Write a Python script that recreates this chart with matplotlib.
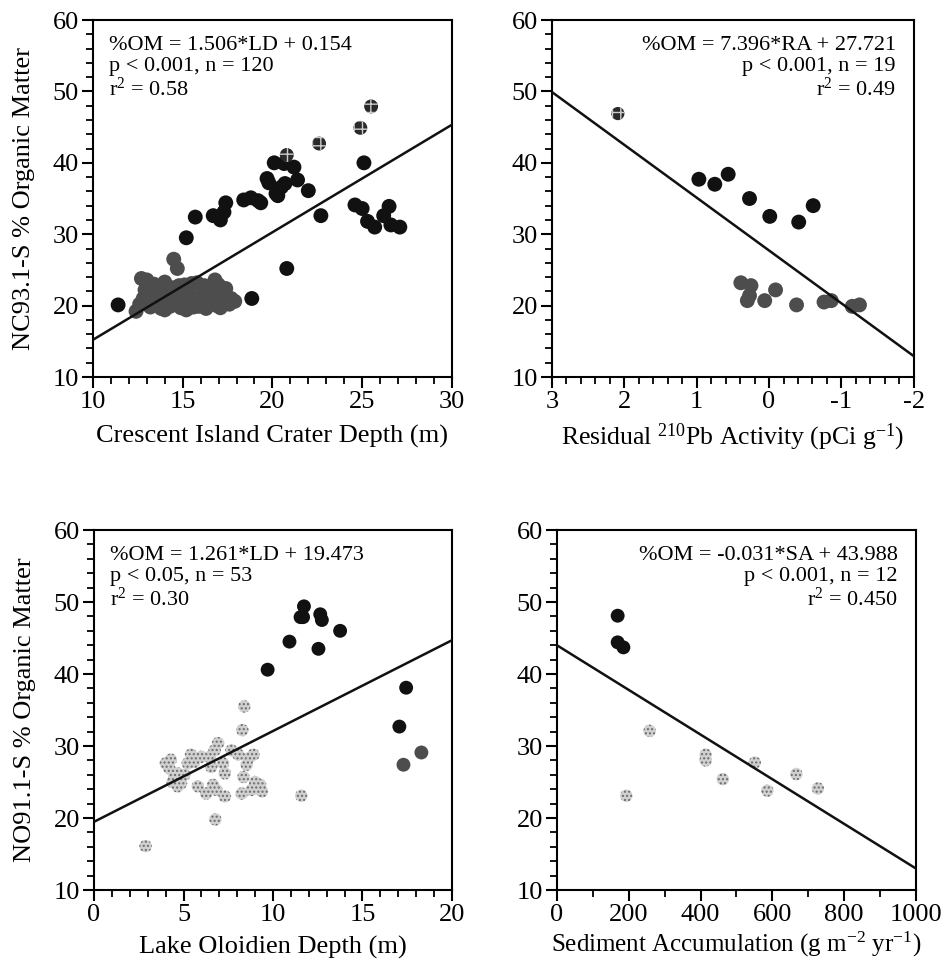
import numpy as np
import matplotlib
matplotlib.use("Agg")
import matplotlib.pyplot as plt
from matplotlib.ticker import MultipleLocator

plt.rcParams['font.family'] = ['Liberation Serif', 'DejaVu Serif']
plt.rcParams['mathtext.fontset'] = 'custom'
plt.rcParams['mathtext.rm'] = 'Liberation Serif'
plt.rcParams['mathtext.it'] = 'Liberation Serif:italic'
plt.rcParams['axes.unicode_minus'] = False
plt.rcParams['hatch.linewidth'] = 1.0

# ---- Panel A: Crescent Island Crater depth vs NC93.1-S %OM ----
a_black_x = [15.2, 15.7, 16.7, 17.1, 17.3, 17.4, 18.4, 18.8, 19.2, 19.35, 20.1, 19.7, 19.8,
             20.2, 20.3, 20.5, 20.65, 21.2, 20.7, 21.4, 22.0, 22.7, 24.6, 25.0, 25.1, 25.3,
             25.7, 26.2, 26.5, 26.6, 27.1, 20.8, 18.85, 11.4]
a_black_y = [29.5, 32.4, 32.6, 32.0, 33.1, 34.4, 34.8, 35.1, 34.7, 34.4, 40.0, 37.8, 37.2,
             35.7, 35.4, 36.6, 39.9, 39.4, 37.1, 37.6, 36.1, 32.6, 34.1, 33.6, 40.0, 31.8,
             31.0, 32.6, 33.9, 31.3, 31.0, 25.2, 21.0, 20.1]
a_gray_x = [14.5, 14.7, 12.4, 12.6, 12.8, 12.9, 13.0, 13.1, 13.2, 13.3, 13.4, 13.5, 13.6, 13.7,
            13.8, 13.9, 14.0, 14.1, 14.2, 14.3, 14.4, 14.5, 14.6, 14.7, 14.8, 14.9, 15.0, 15.1,
            15.2, 15.3, 15.4, 15.5, 15.6, 15.7, 15.8, 16.0, 16.1, 16.2, 16.3, 16.4, 16.5, 16.6,
            16.7, 16.8, 16.9, 17.0, 17.1, 17.2, 17.3, 17.4, 17.5, 17.6, 17.7, 17.9, 12.7, 13.3,
            14.0, 15.9]
a_gray_y = [26.5, 25.2, 19.2, 20.2, 21.0, 22.2, 23.6, 20.5, 19.8, 21.6, 23.0, 22.4, 20.3, 21.2,
            19.6, 22.0, 23.3, 20.6, 21.8, 19.9, 20.8, 22.5, 21.3, 20.1, 22.8, 19.7, 20.9, 22.9,
            19.4, 20.4, 21.5, 23.1, 19.8, 20.6, 23.2, 20.1, 21.7, 22.8, 19.6, 20.8, 22.3, 20.3,
            21.2, 23.6, 20.0, 22.9, 19.7, 21.1, 20.4, 22.4, 20.9, 20.2, 21.0, 20.6, 23.8, 20.9,
            19.4, 19.9]
a_hatch_x = [20.8, 22.6, 24.9, 25.5]
a_hatch_y = [41.1, 42.7, 44.9, 47.9]
a_coef = (1.506, 0.154)
a_text = ["%OM = 1.506*LD + 0.154", "p < 0.001, n = 120", "r$^{2}$ = 0.58"]

# ---- Panel B: residual 210Pb activity vs NC93.1-S %OM ----
b_black_x = [0.97, 0.75, 0.565, 0.27, -0.01, -0.41, -0.61]
b_black_y = [37.7, 37.0, 38.4, 35.0, 32.5, 31.7, 34.0]
b_gray_x = [0.39, 0.25, 0.27, 0.30, 0.06, -0.09, -0.38, -0.76, -0.86, -1.15, -1.25]
b_gray_y = [23.2, 22.8, 21.4, 20.7, 20.7, 22.2, 20.1, 20.5, 20.7, 19.9, 20.1]
b_hatch_x = [2.09]
b_hatch_y = [46.9]
b_coef = (7.396, 27.721)
b_text = ["%OM = 7.396*RA + 27.721", "p < 0.001, n = 19", "r$^{2}$ = 0.49"]

# ---- Panel C: Lake Oloidien depth vs NO91.1-S %OM ----
c_black_x = [11.73, 11.54, 11.68, 12.64, 12.73, 13.75, 10.92, 12.54, 9.70, 17.44, 17.06]
c_black_y = [49.4, 47.9, 47.9, 48.3, 47.5, 46.0, 44.5, 43.5, 40.6, 38.1, 32.7]
c_gray_x = [18.29, 17.29]
c_gray_y = [29.1, 27.4]
c_dot_x = [8.40, 8.29, 2.88, 6.78, 11.58, 6.93, 6.74, 6.46, 7.21, 7.31, 5.42, 5.24, 4.29, 4.20,
           4.48, 4.86, 4.67, 5.80, 6.27, 6.84, 7.31, 8.06, 8.63, 8.91, 8.53, 8.35, 9.0, 9.38,
           8.25, 5.99, 4.01, 5.6, 6.55, 8.8, 4.67, 5.05, 4.39, 6.65, 9.28, 7.68]
c_dot_y = [35.5, 32.2, 16.1, 19.8, 23.1, 30.4, 29.4, 28.5, 27.6, 26.2, 28.8, 27.6, 28.1, 26.9,
           25.7, 24.8, 24.4, 24.4, 23.4, 23.9, 23.0, 28.8, 28.3, 28.8, 27.4, 25.7, 25.0, 23.7,
           23.4, 28.5, 27.6, 27.8, 27.1, 23.9, 26.2, 26.0, 25.0, 24.6, 24.6, 29.4]
c_coef = (1.261, 19.473)
c_text = ["%OM = 1.261*LD + 19.473", "p < 0.05, n = 53", "r$^{2}$ = 0.30"]

# ---- Panel D: sediment accumulation vs NO91.1-S %OM ----
d_black_x = [169, 169, 185]
d_black_y = [48.1, 44.4, 43.7]
d_dot_x = [258, 193, 414, 414, 462, 551, 586, 667, 727]
d_dot_y = [32.1, 23.1, 28.8, 28.0, 25.4, 27.7, 23.8, 26.1, 24.1]
d_coef = (-0.031, 43.988)
d_text = ["%OM = -0.031*SA + 43.988", "p < 0.001, n = 12", "r$^{2}$ = 0.450"]

BLACK = '#111111'
DGRAY = '#4d4d4d'
FS = 19


def style_axes(ax, xlim, xmaj, xmin):
    ax.set_xlim(*xlim)
    ax.set_ylim(10, 60)
    ax.xaxis.set_major_locator(MultipleLocator(xmaj))
    ax.xaxis.set_minor_locator(MultipleLocator(xmin))
    ax.yaxis.set_major_locator(MultipleLocator(10))
    ax.yaxis.set_minor_locator(MultipleLocator(2))
    ax.tick_params(which='major', direction='out', length=8, width=1.5, labelsize=FS,
                   top=False, right=False, pad=2)
    ax.tick_params(which='minor', direction='out', length=5, width=1.3, top=False, right=False)
    for s in ax.spines.values():
        s.set_linewidth(1.5)


def reg_line(ax, coef, xlim):
    xs = np.array(xlim, dtype=float)
    ax.plot(xs, coef[0] * xs + coef[1], color=BLACK, lw=1.8, zorder=3)


def eq_text(ax, lines, right=False):
    x = 0.95 if right else 0.045
    ha = 'right' if right else 'left'
    ax.text(x, 0.955, "\n".join(lines), transform=ax.transAxes, ha=ha, va='top',
            fontsize=16, linespacing=1.12, multialignment=ha)


fig = plt.figure(figsize=(9.42, 9.63), dpi=100)
ax1 = fig.add_axes([0.0987, 0.6085, 0.381, 0.3707])
ax2 = fig.add_axes([0.586, 0.6085, 0.384, 0.3707])
ax3 = fig.add_axes([0.0998, 0.0758, 0.380, 0.3738])
ax4 = fig.add_axes([0.5913, 0.0758, 0.381, 0.3738])

big = 115
small = 80

# Panel A
style_axes(ax1, (10, 30), 5, 1)
ax1.scatter(a_gray_x, a_gray_y, s=big, color=DGRAY, edgecolors='none', zorder=2)
ax1.scatter(a_black_x, a_black_y, s=big, color=BLACK, edgecolors='none', zorder=2)
ax1.scatter(a_hatch_x, a_hatch_y, s=100, facecolor='#2a2a2a', edgecolors='#cccccc',
            hatch='++', linewidths=0, zorder=2)
reg_line(ax1, a_coef, (10, 30))
eq_text(ax1, a_text)
ax1.set_xlabel("Crescent Island Crater Depth (m)", fontsize=FS, labelpad=9)
ax1.set_ylabel("NC93.1-S % Organic Matter", fontsize=FS, labelpad=13)

# Panel B
style_axes(ax2, (3, -2), 1, 0.2)
ax2.scatter(b_gray_x, b_gray_y, s=big, color=DGRAY, edgecolors='none', zorder=2)
ax2.scatter(b_black_x, b_black_y, s=big, color=BLACK, edgecolors='none', zorder=2)
ax2.scatter(b_hatch_x, b_hatch_y, s=90, facecolor='#2a2a2a', edgecolors='#cccccc',
            hatch='++', linewidths=0, zorder=2)
reg_line(ax2, b_coef, (3, -2))
eq_text(ax2, b_text, right=True)
ax2.set_xlabel("Residual $\\mathregular{^{210}}$Pb Activity (pCi g$\\mathregular{^{-1}}$)",
               fontsize=18.5, labelpad=6)

# Panel C
style_axes(ax3, (0, 20), 5, 1)
ax3.scatter(c_dot_x, c_dot_y, s=small, facecolor='#d0d0d0', edgecolors='#6a6a6a',
            hatch='....', linewidths=0, zorder=2)
ax3.scatter(c_gray_x, c_gray_y, s=100, color=DGRAY, edgecolors='none', zorder=2)
ax3.scatter(c_black_x, c_black_y, s=100, color=BLACK, edgecolors='none', zorder=2)
reg_line(ax3, c_coef, (0, 20))
eq_text(ax3, c_text)
ax3.set_xlabel("Lake Oloidien Depth (m)", fontsize=FS, labelpad=7)
ax3.set_ylabel("NO91.1-S % Organic Matter", fontsize=FS, labelpad=13)

# Panel D
style_axes(ax4, (0, 1000), 200, 100)
ax4.scatter(d_dot_x, d_dot_y, s=small, facecolor='#d0d0d0', edgecolors='#6a6a6a',
            hatch='....', linewidths=0, zorder=2)
ax4.scatter(d_black_x, d_black_y, s=100, color=BLACK, edgecolors='none', zorder=2)
reg_line(ax4, d_coef, (0, 1000))
eq_text(ax4, d_text, right=True)
ax4.set_xlabel("Sediment Accumulation (g m$\\mathregular{^{-2}}$ yr$\\mathregular{^{-1}}$)",
               fontsize=18, labelpad=3)

fig.savefig("out.png", dpi=100)
